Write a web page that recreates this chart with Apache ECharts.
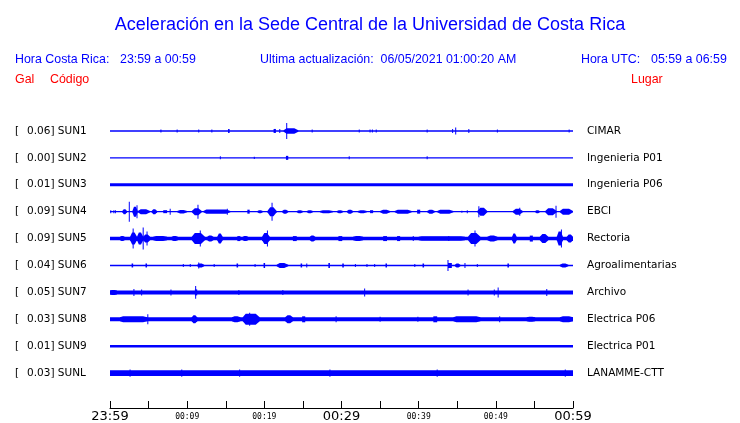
<!DOCTYPE html>
<html><head><meta charset="utf-8">
<script src="https://cdn.jsdelivr.net/npm/echarts@6/dist/echarts.min.js"></script>
<style>html,body{margin:0;padding:0;background:#fff}#c{width:740px;height:423px}</style>
</head><body><div id="c"></div>
<script>
// ---- data ----
const codes  = ['SUN1','SUN2','SUN3','SUN4','SUN5','SUN6','SUN7','SUN8','SUN9','SUNL'];
const galMax = ['0.06','0.00','0.01','0.09','0.09','0.04','0.05','0.03','0.01','0.03'];
const places = ['CIMAR','Ingenieria P01','Ingenieria P06','EBCI','Rectoria','Agroalimentarias','Archivo','Electrica P06','Electrica P01','LANAMME-CTT'];
// background noise half-amplitude of each trace (display units)
const noiseAmp = [0.7,0.7,1.6,0.7,1.8,0.7,2.0,2.0,1.2,2.9];
// events: [startMinute, endMinute, halfAmplitude]
const ev_SUN1 = [[6.6,6.6,1.5],[8.7,8.7,1.5],[11.5,11.5,1.5],[13.2,13.2,1.5],[15.3,15.5,2],[21.2,21.5,2],[22.0,22.0,2],[22.5,24.4,2.8],[22.9,22.9,8],[26.2,26.2,1.5],[32.3,32.3,1.5],[33.7,33.7,1.5],[34.0,34.0,1.5],[34.5,34.5,1.5],[41.1,41.1,1.5],[44.4,44.4,2],[44.8,44.8,3.5],[46.5,46.5,2],[50.2,50.2,1.5],[59.5,59.5,1.5]];
const ev_SUN2 = [[14.3,14.3,1.5],[18.7,18.7,1.2],[22.8,23.1,2],[31.0,31.0,1.5],[41.1,41.1,1.5]];
const ev_SUN3 = [];
const ev_SUN4 = [[0.1,0.1,1.5],[0.5,0.5,1.5],[0.7,0.7,1.5],[1.6,2.2,2.5],[2.5,2.5,10],[2.9,3.6,5],[3.5,3.5,6.5],[3.6,5.2,2.5],[5.4,6.1,2.5],[6.9,7.4,1.5],[7.8,7.8,3],[8.7,10.0,1.8],[10.6,11.9,3.5],[11.4,11.4,7],[12.1,15.6,2.2],[15.2,15.2,3],[17.8,18.1,2],[19.1,19.8,1.5],[20.4,21.6,4.5],[21.0,21.0,9],[22.3,23.1,2],[24.2,25.0,1.5],[25.5,26.3,1.5],[27.2,28.9,1.5],[29.4,30.2,1.5],[30.7,31.5,2],[32.1,33.3,1.5],[33.7,34.1,1.5],[35.0,36.3,2],[36.9,39.1,2],[39.8,40.2,2],[41.1,42.1,2],[42.4,44.5,2],[45.6,45.6,1],[46.3,46.3,1.5],[47.6,48.9,4],[47.8,47.8,5.5],[52.2,53.5,3],[53.1,53.1,4],[55.1,55.7,1.5],[56.4,57.9,3.5],[57.8,57.8,6],[58.3,60.0,3]];
const ev_SUN5 = [[1.3,1.9,2.5],[2.6,3.5,6],[3.0,3.0,10],[3.5,4.3,6],[4.3,4.3,11],[4.3,5.2,4],[4.8,4.8,7],[5.6,7.4,2.5],[8.0,8.8,2.5],[10.6,12.3,5.5],[11.7,11.7,8],[12.6,13.4,3],[13.9,14.6,5],[16.5,16.9,2.5],[17.2,17.9,2.5],[19.7,20.7,5.5],[20.4,20.4,8],[23.7,24.2,2.5],[25.9,26.6,3],[29.6,30.1,2.5],[31.5,32.8,2.5],[35.4,35.9,2.5],[37.2,37.6,2.5],[39.3,39.3,2.5],[40.0,46.0,2.3],[43.9,43.9,2.5],[46.4,48.0,5.5],[47.3,47.3,8],[48.9,50.2,3],[52.1,52.7,5],[54.4,54.8,3],[55.7,56.8,4.5],[57.9,58.7,7],[58.5,58.5,9],[59.2,60.0,4]];
const ev_SUN6 = [[2.8,3.0,2],[4.6,4.8,2],[9.5,9.5,1.5],[10.4,10.4,1.5],[11.3,12.2,2],[11.5,11.5,3],[13.5,13.5,1.5],[16.4,16.6,2],[18.8,18.8,1.5],[19.9,20.1,2.5],[21.6,23.1,2.5],[24.7,24.9,2],[25.5,25.6,2],[28.3,28.5,2.5],[30.1,30.3,2],[31.8,31.8,1.5],[33.3,33.3,1.5],[34.3,34.3,1.5],[35.7,35.9,2],[39.5,39.5,1.5],[40.5,40.7,2],[43.8,44.3,2.5],[43.8,43.8,5.5],[44.7,45.4,2],[46.0,46.0,2.5],[47.6,47.6,1.5],[51.5,51.7,2],[58.3,59.4,2]];
const ev_SUN7 = [[0.0,0.9,2.5],[3.1,3.1,3.5],[4.1,4.2,3],[7.9,7.9,3],[11.1,11.1,6.5],[11.0,11.3,3],[16.7,16.7,2.5],[22.4,22.4,2.5],[33.0,33.1,4],[46.4,46.4,3],[49.8,49.8,3],[50.3,50.3,5],[56.6,56.7,3.5]];
const ev_SUN8 = [[1.3,4.8,3],[4.9,4.9,5],[10.6,11.3,4],[15.8,16.9,3],[17.2,19.4,5.5],[18.1,18.1,6.5],[22.7,23.7,4],[24.9,25.3,3],[29.3,29.3,3],[35.0,35.0,2.5],[39.9,39.9,2.5],[41.9,42.4,3],[44.5,48.0,3],[50.5,50.5,3],[54.0,55.1,2.5],[58.3,60.0,3]];
const ev_SUN9 = [];
const ev_SUNL = [[2.6,2.6,3.6],[9.3,9.3,3.6],[16.8,16.8,3.6],[28.5,28.5,3.6],[42.4,42.4,3.6],[59.0,59.0,3.6]];
const events = [ev_SUN1,ev_SUN2,ev_SUN3,ev_SUN4,ev_SUN5,ev_SUN6,ev_SUN7,ev_SUN8,ev_SUN9,ev_SUNL];
const tickLabels = ['23:59','00:09','00:19','00:29','00:39','00:49','00:59'];
const bigLabels = ['23:59','00:29','00:59'];

// ---- build ----
const BLUE = '#0000ff';
const rowValue = i => 278 - 27 * i;
const data = [];
codes.forEach((c, i) => {
  data.push([i, 0, 60, noiseAmp[i], 1]);
  events[i].forEach(e => data.push([i, e[0], e[1], e[2], 0]));
});

function renderItem(params, api) {
  const row = api.value(0), m0 = api.value(1), m1 = api.value(2), amp = api.value(3), isBase = api.value(4);
  const cy = rowValue(row);
  const p0 = api.coord([m0, cy]), p1 = api.coord([m1, cy]);
  const h = api.size([0, amp])[1];
  const hn = Math.min(h, api.size([0, noiseAmp[row]])[1]);
  let x = p0[0], w = p1[0] - p0[0];
  const children = [];
  if (isBase || w < 4) {
    if (w < 1) { x -= 0.5; w = 1; }
    children.push({type:'rect', shape:{x:x, y:p0[1]-h, width:w, height:2*h}, style:{fill:BLUE}});
  } else {
    // burst envelope with tapered ends
    const y = p0[1];
    const a = Math.min(0.3 * w, 3), b = Math.min(0.35 * w, 4);
    const pts = [[x, y-hn],[x+a, y-h],[x+w-b, y-h],[x+w, y-hn],[x+w, y+hn],[x+w-b, y+h],[x+a, y+h],[x, y+hn]];
    children.push({type:'polygon', shape:{points:pts}, style:{fill:BLUE}});
  }
  if (isBase) {
    const f = '10.5px "DejaVu Sans"';
    children.push({type:'text', style:{text:'[', x:15, y:p0[1], verticalAlign:'middle', align:'left', font:f, fill:'#000'}});
    children.push({type:'text', style:{text:galMax[row] + '] ' + codes[row], x:27, y:p0[1], verticalAlign:'middle', align:'left', font:f, fill:'#000'}});
    children.push({type:'text', style:{text:places[row], x:587, y:p0[1], verticalAlign:'middle', align:'left', font:f, fill:'#000'}});
  }
  return {type:'group', children:children};
}

const hdr = (t, x, y, color, align) => ({type:'text', x:x, y:y, style:{text:t, fill:color, font:'12.4px "Liberation Sans"', align:align||'left', verticalAlign:'middle'}});

const chart = echarts.init(document.getElementById('c'), null, {renderer:'canvas'});
chart.setOption({
  animation:false,
  backgroundColor:'#fff',
  title:{text:'Aceleración en la Sede Central de la Universidad de Costa Rica', left:'center', top:11,
    textStyle:{color:BLUE, fontSize:18, fontWeight:'normal', fontFamily:'Liberation Sans'}},
  graphic:[
    hdr('Hora Costa Rica:', 15, 60, BLUE),
    hdr('23:59 a 00:59', 120, 60, BLUE),
    hdr('Ultima actualización:  06/05/2021 01:00:20 AM', 260, 60, BLUE),
    hdr('Hora UTC:', 581, 60, BLUE),
    hdr('05:59 a 06:59', 651, 60, BLUE),
    hdr('Gal', 15, 80, '#ff0000'),
    hdr('Código', 50, 80, '#ff0000'),
    hdr('Lugar', 631, 80, '#ff0000')
  ],
  grid:{left:110, right:167, top:116, bottom:14, containLabel:false},
  xAxis:{type:'value', min:0, max:60, interval:5,
    axisLine:{show:true, lineStyle:{color:'#000', width:1}},
    axisTick:{show:true, inside:true, length:7, lineStyle:{color:'#000'}},
    splitLine:{show:false},
    axisLabel:{margin:2, showMinLabel:true, showMaxLabel:true,
      formatter:function(v){ if (v % 10 !== 0) return ''; const t = tickLabels[v/10]; return bigLabels.indexOf(t) >= 0 ? '{big|'+t+'}' : '{small|'+t+'}'; },
      rich:{big:{fontSize:13, fontFamily:'DejaVu Sans', color:'#000'}, small:{fontSize:8, fontFamily:'DejaVu Sans Mono', color:'#000', padding:[3,0,0,0]}}}
  },
  yAxis:{type:'value', min:0, max:293, show:false},
  series:[{type:'custom', renderItem:renderItem, data:data, clip:false, silent:true}]
});
</script></body></html>
